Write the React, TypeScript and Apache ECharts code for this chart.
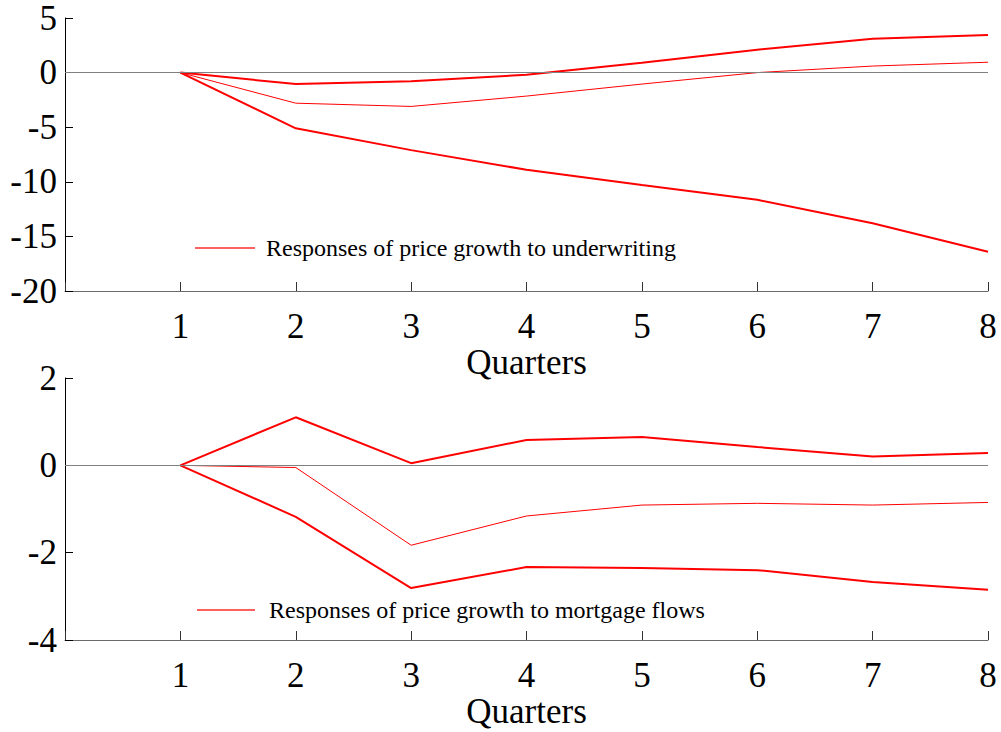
import React, { useEffect, useRef } from "react";
import * as echarts from "echarts";

const quarters = [1, 2, 3, 4, 5, 6, 7, 8];
const topUpper = [0, -1.05, -0.8, -0.2, 0.9, 2.1, 3.1, 3.45];
const topMid = [0, -2.8, -3.1, -2.15, -1.05, 0, 0.6, 0.95];
const topLower = [0, -5.1, -7.1, -8.9, -10.3, -11.65, -13.8, -16.4];
const botUpper = [0, 1.1, 0.05, 0.58, 0.65, 0.42, 0.2, 0.28];
const botMid = [0, -0.05, -1.83, -1.16, -0.91, -0.87, -0.91, -0.85];
const botLower = [0, -1.18, -2.81, -2.33, -2.35, -2.4, -2.67, -2.85];
const topName = "Responses of price growth to underwriting";
const botName = "Responses of price growth to mortgage flows";

const FONT = "'Liberation Serif', 'Times New Roman', serif";

function pairs(vals: number[]) {
  return quarters.map((q, i) => [q, vals[i]]);
}

export default function App() {
  const ref = useRef<HTMLDivElement>(null);
  useEffect(() => {
    const chart = echarts.init(ref.current!, null, { renderer: "svg" });
    const xAxisBase = (gridIndex: number) => ({
      type: "value",
      gridIndex,
      min: 0,
      max: 8,
      interval: 1,
      name: "Quarters",
      nameLocation: "middle",
      nameGap: 52,
      nameTextStyle: { fontFamily: FONT, fontSize: 35, color: "#000" },
      axisLine: { show: true, onZero: false, lineStyle: { color: "#6a6a6a", width: 1 } },
      axisTick: { show: true, inside: true, length: 9, lineStyle: { color: "#333" } },
      axisLabel: {
        fontFamily: FONT,
        fontSize: 35,
        color: "#000",
        margin: 18,
        formatter: (v: number) => (v === 0 ? "" : String(v)),
      },
      splitLine: { show: false },
    });
    const yAxisBase = (gridIndex: number, min: number, max: number, interval: number) => ({
      type: "value",
      gridIndex,
      min,
      max,
      interval,
      axisLine: { show: true, lineStyle: { color: "#000", width: 1 } },
      axisTick: { show: true, inside: true, length: 8, lineStyle: { color: "#000" } },
      axisLabel: { fontFamily: FONT, fontSize: 35, color: "#000", margin: 8 },
      splitLine: { show: false },
    });
    const zeroLine = {
      silent: true,
      symbol: "none",
      label: { show: false },
      lineStyle: { color: "#808080", width: 1, type: "solid" },
      data: [{ yAxis: 0 }],
    };
    const line = (name: string, data: number[], idx: number, width: number, mark?: boolean) => ({
      type: "line",
      name,
      xAxisIndex: idx,
      yAxisIndex: idx,
      data: pairs(data),
      symbol: "none",
      lineStyle: { color: "#ff0000", width },
      itemStyle: { color: "#ff6060" },
      ...(mark ? { markLine: zeroLine } : {}),
    });
    const legendCommon = {
      icon: "rect",
      itemHeight: 2,
      textStyle: { fontFamily: FONT, fontSize: 24, color: "#000" },
    };
    chart.setOption({
      animation: false,
      grid: [
        { left: 65, top: 18, width: 923, height: 273 },
        { left: 65, top: 378, width: 923, height: 262 },
      ],
      xAxis: [xAxisBase(0), xAxisBase(1)],
      yAxis: [yAxisBase(0, -20, 5, 5), yAxisBase(1, -4, 2, 2)],
      legend: [
        {
          ...legendCommon,
          data: [topName],
          left: 190,
          top: 231,
          itemWidth: 60,
          textStyle: { ...legendCommon.textStyle, padding: [0, 0, 0, 6] },
        },
        {
          ...legendCommon,
          data: [botName],
          left: 192,
          top: 593,
          itemWidth: 58,
          textStyle: { ...legendCommon.textStyle, padding: [0, 0, 0, 9] },
        },
      ],
      series: [
        line(topName + " upper", topUpper, 0, 2, true),
        line(topName, topMid, 0, 1),
        line(topName + " lower", topLower, 0, 2),
        line(botName + " upper", botUpper, 1, 2, true),
        line(botName, botMid, 1, 1),
        line(botName + " lower", botLower, 1, 2),
      ],
    });
    return () => chart.dispose();
  }, []);
  return (
    <div
      ref={ref}
      style={{ position: "absolute", left: 0, top: 0, width: 1001, height: 732, background: "#fff" }}
    />
  );
}
